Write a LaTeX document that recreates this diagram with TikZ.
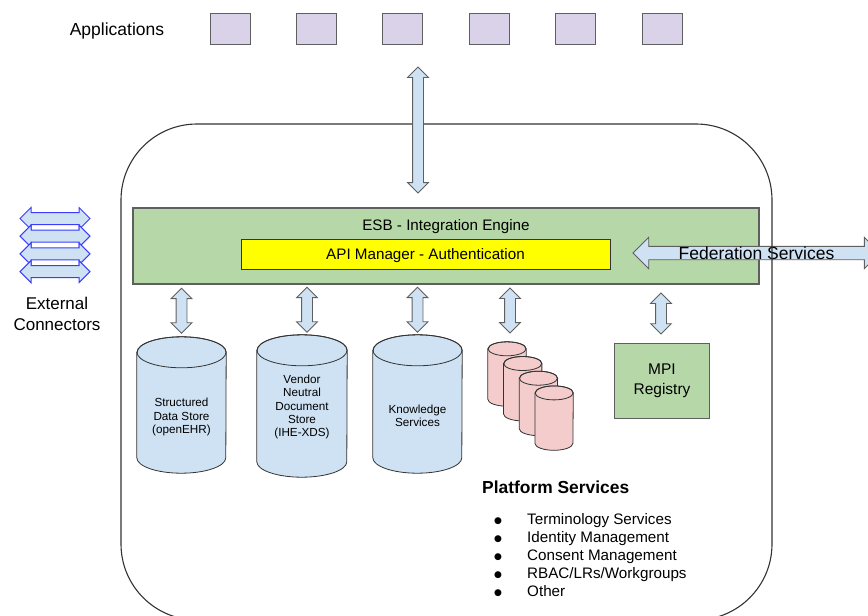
\documentclass[tikz,border=0pt]{standalone}
\usepackage{fontspec}
\setmainfont{Liberation Sans}
\newfontfamily\symbolfont{DejaVu Sans}
\usetikzlibrary{shapes.geometric,shapes.arrows,calc,positioning}

\definecolor{applav}{HTML}{D9D2E9}
\definecolor{esbgreen}{HTML}{B6D7A8}
\definecolor{apiyellow}{HTML}{FFFF00}
\definecolor{linkblue}{HTML}{CFE2F3}
\definecolor{svcpink}{HTML}{F4CCCC}
\definecolor{extblue}{HTML}{3C3CFF}
\definecolor{bk80}{HTML}{333333}
\definecolor{bk60}{HTML}{5F5F5F}

\tikzset{
  appbox/.style={
    rectangle, draw=bk60, fill=applav, line width=1pt,
    minimum width=40pt, minimum height=31pt, inner sep=0pt
  },
  greenbox/.style={
    rectangle, draw=bk60, fill=esbgreen, line width=1.2pt, inner sep=0pt
  },
  linkarrow/.style={
    double arrow, draw=bk60, fill=linkblue, line width=0.8pt,
    inner xsep=0pt, inner ysep=5pt, double arrow head extend=5pt,
    minimum height=#1, rotate=90
  },
  linkarrow/.default=45pt,
  extarrow/.style={
    double arrow, draw=extblue, fill=linkblue, line width=1pt,
    inner xsep=0pt, inner ysep=5.5pt, double arrow head extend=5pt,
    minimum height=70pt
  },
  drumbody/.style={rectangle, inner sep=0pt, minimum width=#1},
  drumline/.style={draw=bk80, line width=0.8pt},
  labeltext/.style={font={\fontsize{17.5}{21}\selectfont}, inner sep=0pt},
  boxtext/.style={font={\fontsize{15.2}{19}\selectfont}, inner sep=0pt},
  storetext/.style={font={\fontsize{11.7}{13.3}\selectfont}, align=center, inner sep=0pt},
}

% upright drum on a named node: #1 node, #2 half width, #3 end radius, #4 fill
\newcommand{\drum}[4]{%
  \draw[drumline, fill=#4] ($(#1.north west)+(0,#3)$) -- ($(#1.south west)+(0,-#3)$)
      arc[start angle=180, end angle=360, x radius=#2pt, y radius=#3pt]
      -- ($(#1.north east)+(0,#3)$)
      arc[start angle=0, end angle=180, x radius=#2pt, y radius=#3pt] -- cycle;
  \draw[drumline] ($(#1.north)+(0,#3)$) ellipse[x radius=#2pt, y radius=#3pt];
}
\newcommand{\listdot}{\makebox[33pt][l]{\raisebox{1.2pt}{\symbolfont\fontsize{9}{18}\selectfont ●}}}

\begin{document}
\begin{tikzpicture}[x=1pt, y=-1pt]
    \useasboundingbox (0,0) rectangle (868,616);

    % Applications row
    \node[labeltext] (applabel) at (117,31) {Applications};
    \foreach \i in {0,...,5}
        \node[appbox] (app\i) at ({230+86.4*\i},28.5) {};

    % ESB with the API manager inside
    \node[greenbox, minimum width=626pt, minimum height=76pt] (esb) at (446,246) {};
    \node[boxtext] (esblabel) at (446,227) {ESB - Integration Engine};
    \node[rectangle, draw=bk80, fill=apiyellow, line width=1pt,
          minimum width=369pt, minimum height=30pt, inner sep=0pt] (api) at (425.5,254) {};
    \node[boxtext] at ([yshift=-1.5pt]api.center) {API Manager - Authentication};

    % Federation
    \node[double arrow, draw=bk60, fill=linkblue, line width=0.8pt,
          text height=12.5pt, text depth=0pt, inner xsep=1pt, inner ysep=2.3pt,
          double arrow head extend=9pt, minimum height=247pt,
          labeltext] (fed) at (756.5,253) {Federation Services};

    % Platform outline (runs over the federation arrow)
    \draw[bk80, line width=1.1pt, rounded corners=76pt] (121,124) rectangle (772,620);

    % Link from the applications down to the ESB
    \node[linkarrow=126pt] (applink) at (418,130) {};

    % External connectors
    \foreach \i in {0,...,3}
        \node[extarrow] (ext\i) at (55,{218.5+17.7*\i}) {};
    \node[labeltext, align=center, font={\fontsize{17}{21}\selectfont}] (extlabel) at (57,314) {External\\Connectors};

    % Data stores
    \node[drumbody=89pt, minimum height=136pt] (store1) at (181.5,405) {};
    \node[drumbody=90pt, minimum height=142pt] (store2) at (302,406) {};
    \node[drumbody=89pt, minimum height=138pt] (store3) at (417.5,404) {};
    \drum{store1}{44.5}{15.5}{linkblue}
    \drum{store2}{45}{15.5}{linkblue}
    \drum{store3}{44.5}{15.5}{linkblue}
    \node[storetext] at (181.5,417) {Structured\\Data Store\\(openEHR)};
    \node[storetext] at (302,407) {Vendor\\Neutral\\Document\\Store\\(IHE-XDS)};
    \node[storetext] at (417.5,416) {Knowledge\\Services};

    % Platform service stack
    \foreach \i in {0,...,3} {
        \node[drumbody=38pt, minimum height=64pt] (svc\i) at ({507+15.7*\i},{374+14.7*\i}) {};
        \drum{svc\i}{19}{7}{svcpink}
    }

    % MPI
    \node[greenbox, line width=1pt, minimum width=95pt, minimum height=75pt,
          boxtext, font={\fontsize{15.5}{20}\selectfont}, align=center] (mpi) at (662,380.5) {MPI\\Registry};

    % Links from the ESB
    \node[linkarrow] (link1) at ($(esb.south -| store1.north)!0.5!(store1.north)$) {};
    \node[linkarrow] (link2) at ($(esb.south -| store2.north)!0.5!(store2.north)+(5,0)$) {};
    \node[linkarrow] (link3) at ($(esb.south -| store3.north)!0.5!(store3.north)$) {};
    \node[linkarrow] (link4) at (510,310.5) {};
    \node[linkarrow=41pt] (link5) at ($(esb.south -| mpi.north)!0.5!(mpi.north)+(-1,0)$) {};

    % Platform services list
    \node[labeltext, anchor=west, font={\bfseries\fontsize{17.4}{21}\selectfont}] (svctitle) at (482,487) {Platform Services};
    \node[boxtext, anchor=west, align=left, font={\fontsize{15.2}{18}\selectfont}] (svclist) at (494,555) {%
        \listdot Terminology Services\\
        \listdot Identity Management\\
        \listdot Consent Management\\
        \listdot RBAC/LRs/Workgroups\\
        \listdot Other};
\end{tikzpicture}
\end{document}
